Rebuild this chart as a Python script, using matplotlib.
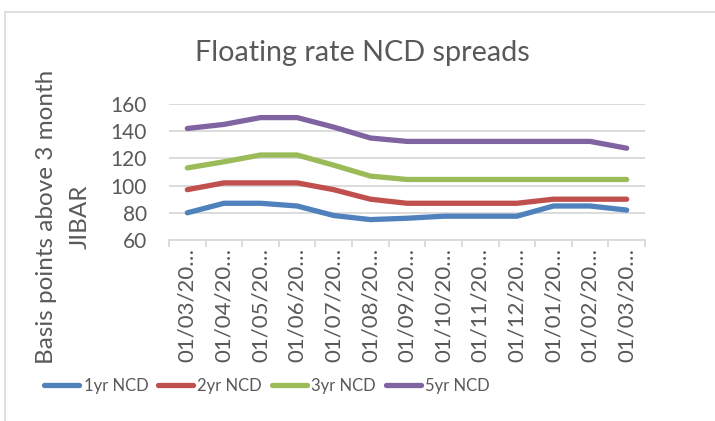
import matplotlib
matplotlib.use("Agg")
import matplotlib.pyplot as plt
from matplotlib.lines import Line2D
from matplotlib.ticker import FixedLocator

plt.rcParams['font.family'] = ['Lato', 'DejaVu Sans']

dates = ["01/03/20…", "01/04/20…", "01/05/20…", "01/06/20…", "01/07/20…", "01/08/20…",
         "01/09/20…", "01/10/20…", "01/11/20…", "01/12/20…", "01/01/20…", "01/02/20…", "01/03/20…"]
ncd_1yr = [80, 87, 87, 85, 78, 75, 76, 77.5, 77.5, 77.5, 85, 85, 82]
ncd_2yr = [97, 102, 102, 102, 97, 90, 87, 87, 87, 87, 90, 90, 90]
ncd_3yr = [113, 117.5, 122.5, 122.5, 115, 107, 104.5, 104.5, 104.5, 104.5, 104.5, 104.5, 104.5]
ncd_5yr = [142, 145, 150, 150, 143, 135, 132.5, 132.5, 132.5, 132.5, 132.5, 132.5, 127.5]
series_names = ["1yr NCD", "2yr NCD", "3yr NCD", "5yr NCD"]
colors = ["#4F81BD", "#C0504D", "#9BBB59", "#8064A2"]

W, H = 715, 421
fig = plt.figure(figsize=(W / 100, H / 100), dpi=100)
ax = fig.add_axes([169 / W, 1 - 240 / H, (645 - 169) / W, (240 - 104) / H])

x = list(range(len(dates)))
for vals, name, c in zip([ncd_1yr, ncd_2yr, ncd_3yr, ncd_5yr], series_names, colors):
    ax.plot(x, vals, color=c, lw=3.8, solid_capstyle='round', solid_joinstyle='round', label=name, zorder=3)

ax.set_xlim(-0.5, len(dates) - 0.5)
ax.set_ylim(60, 160)
ax.set_yticks([60, 80, 100, 120, 140, 160])
ax.grid(axis='y', color='#D9D9D9', lw=1.3, zorder=0)
for s in ['top', 'right', 'left']:
    ax.spines[s].set_visible(False)
ax.spines['bottom'].set_color('#D9D9D9')
ax.spines['bottom'].set_linewidth(1.3)

ax.set_xticks(x)
ax.set_xticklabels(dates, rotation=90, fontsize=16, color='#595959')
ax.tick_params(axis='x', which='major', length=0, pad=6)
ax.xaxis.set_minor_locator(FixedLocator([i - 0.5 for i in range(len(dates) + 1)]))
ax.tick_params(axis='x', which='minor', length=5, color='#D9D9D9', width=1.3)
ax.tick_params(axis='y', length=0, labelsize=15, labelcolor='#595959', pad=16)

fig.text(47 / W, 1 - 217 / H, "Basis points above 3 month", rotation=90, ha='center', va='center',
         fontsize=17.5, color='#595959')
fig.text(80 / W, 1 - 217 / H, "JIBAR", rotation=90, ha='center', va='center',
         fontsize=17.5, color='#595959')

fig.text(362 / W, 1 - 53 / H, "Floating rate NCD spreads", ha='center', va='center',
         fontsize=20.7, color='#595959')

handles = [Line2D([0], [0], color=c, lw=3.8, solid_capstyle='round') for c in colors]
fig.legend(handles, series_names, loc='center', bbox_to_anchor=(267 / W, 1 - 386 / H), ncol=4,
           frameon=False, fontsize=12, labelcolor='#595959', handlelength=2.1, handletextpad=0.25,
           columnspacing=0.6)

fig.add_artist(Line2D([5 / W, 1], [1 - 12 / H, 1 - 12 / H], color='#D9D9D9', lw=1.2))
fig.add_artist(Line2D([5 / W, 5 / W], [0, 1 - 12 / H], color='#D9D9D9', lw=1.2))

fig.savefig("out.png", dpi=100)
